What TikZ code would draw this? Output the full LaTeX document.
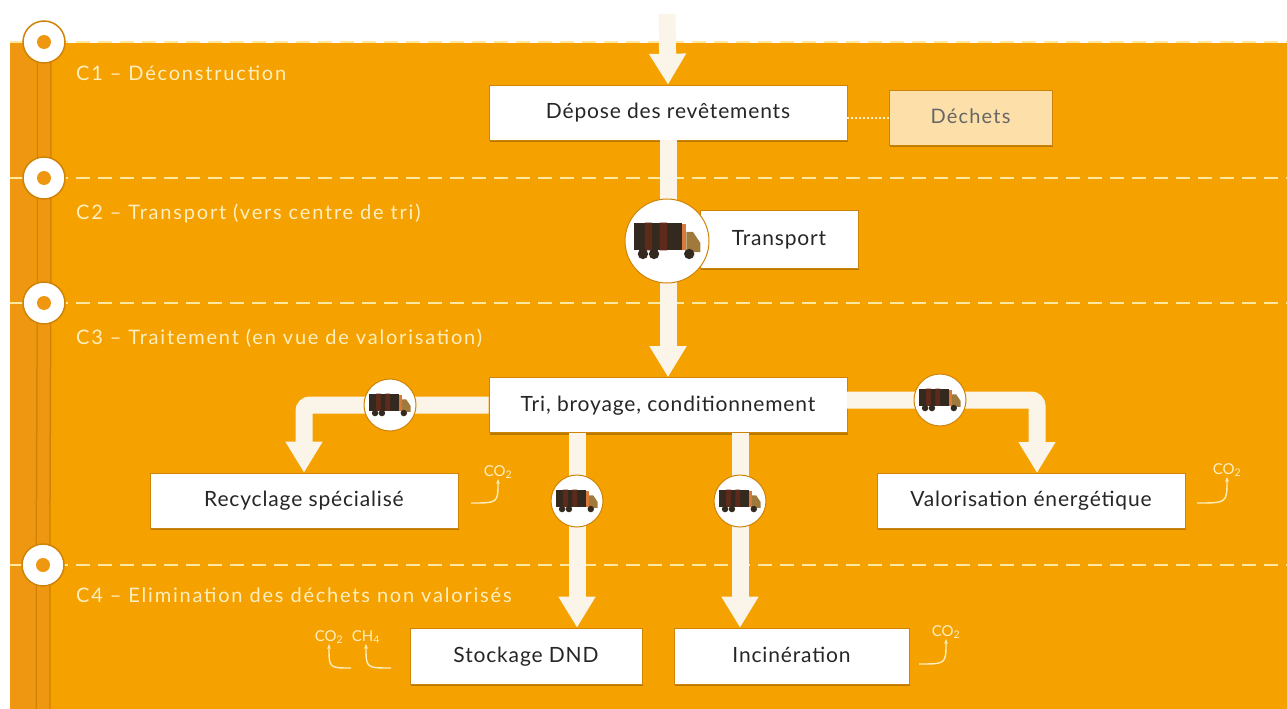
\documentclass[tikz,border=0pt]{standalone}
\usepackage{fontspec}
\setmainfont{Lato}
\usetikzlibrary{arrows.meta,shadows}
\definecolor{bandorange}{HTML}{F5A100}
\definecolor{striporange}{HTML}{EF9710}
\definecolor{railorange}{HTML}{CF8408}
\definecolor{cream}{HTML}{FFEFC0}
\definecolor{dashyellow}{HTML}{FFE8A0}
\definecolor{flowwhite}{HTML}{FAF5E8}
\definecolor{decorfill}{HTML}{FDDFAA}
\definecolor{truckdark}{HTML}{33291F}
\definecolor{truckred}{HTML}{5E2A1C}
\definecolor{truckstrip}{HTML}{D8793A}
\definecolor{truckcab}{HTML}{A07A3C}
\tikzset{
    procbox/.style={draw=railorange, line width=0.6pt, fill=white, text=black!85, font=\fontsize{21}{24}\selectfont\addfontfeature{LetterSpace=4},
        text height=15pt, text depth=3pt, minimum height=55pt, inner sep=0pt,
        drop shadow={shadow xshift=0.5pt, shadow yshift=-2pt, fill=black!35!bandorange, opacity=0.7}},
    flow/.style={draw=flowwhite, line width=17pt, rounded corners=6pt, -{Triangle[length=31pt, width=35pt]}},
    truckdisc/.style={circle, draw=railorange, line width=1pt, fill=white, inner sep=0pt},
    stepdot/.style={circle, draw=railorange, line width=1.5pt, fill=white, minimum size=42pt, inner sep=0pt},
    sepline/.style={draw=dashyellow, line width=2pt, dash pattern=on 14pt off 8pt},
    phase/.style={anchor=west, text=cream, font=\fontsize{20}{23}\selectfont\addfontfeature{LetterSpace=9}, inner sep=0pt},
    gaslabel/.style={text=cream, font=\fontsize{15}{17}\selectfont, inner sep=0pt},
    gas/.style={draw=cream, line width=1.4pt, -{Stealth[length=5pt]}},
    truck/.pic={
        \fill[truckdark] (-18,-10) rectangle (8,5);
        \fill[truckred] (-12,-10) rectangle (-8,5) (-4,-10) rectangle (0,5);
        \fill[truckstrip] (8,-9) rectangle (10.5,5);
        \fill[truckcab] (10.5,-5) -- (14,-5) -- (18,1) -- (18,6) -- (10.5,6) -- cycle;
        \fill[truckdark] (-13,7) circle (2.8) (-7,7) circle (2.8) (12,7) circle (2.8);
    }
}
\begin{document}
\begin{tikzpicture}[x=1pt, y=-1pt]
    \useasboundingbox (0,0) rectangle (1287,709);
    \fill[bandorange] (10,43) rectangle (1287,709);
    \fill[striporange] (10,43) rectangle (36,709);

    \coordinate (stepa) at (44,42);
    \coordinate (stepb) at (44,178);
    \coordinate (stepc) at (44,303);
    \coordinate (stepd) at (43,565);
    \coordinate (railend) at (43,709);
    \coordinate (rightedge) at (1287,0);
    \coordinate (leftedge) at (10,0);
    \coordinate (topend) at (667,14);

    \draw[railorange, line width=1.5pt, double=striporange, double distance=12pt] (stepa) -- (stepb) -- (stepc) -- (stepd) -- (railend);

    % dashed limits between the phases
    \draw[sepline] (stepa -| leftedge) -- (stepa -| rightedge);
    \draw[sepline] (stepb -| leftedge) -- (stepb -| rightedge);
    \draw[sepline] (stepc -| leftedge) -- (stepc -| rightedge);
    \draw[sepline] (stepd -| leftedge) -- (stepd -| rightedge);

    \node[stepdot](dota) at (stepa) {};
    \node[stepdot](dotb) at (stepb) {};
    \node[stepdot](dotc) at (stepc) {};
    \node[stepdot](dotd) at (stepd) {};
    \fill[striporange] (stepa) circle (7) (stepb) circle (7) (stepc) circle (7) (stepd) circle (7);

    \node[phase](C_1) at (76,73) {C1 -- Déconstruction};
    \node[phase](C_2) at (76,213) {C2 -- Transport (vers centre de tri)};
    \node[phase](C_3) at (76,338) {C3 -- Traitement (en vue de valorisation)};
    \node[phase](C_4) at (76,595) {C4 -- Elimination des déchets non valorisés};

    \node[procbox, minimum width=358pt](depose) at (668,112.5) {Dépose des revêtements};
    \node[procbox, minimum width=163pt, fill=decorfill, text=black!60, font=\fontsize{20}{23}\selectfont\addfontfeature{LetterSpace=6}](dechets) at (970.5,117.5) {Déchets};
    \node[procbox, minimum width=158pt, minimum height=58pt](transport) at (779,239) {Transport};
    \node[procbox, minimum width=358pt](tri) at (668,405) {Tri, broyage, conditionnement};
    \node[procbox, minimum width=308pt](recyclage) at (304,500.5) {Recyclage spécialisé};
    \node[procbox, minimum width=308pt](valorisation) at (1031,500.5) {Valorisation énergétique};
    \node[procbox, minimum width=232pt, minimum height=56pt](stockage) at (526,656) {Stockage DND};
    \node[procbox, minimum width=235pt, minimum height=56pt](incineration) at (791.5,656) {Incinération};

    \coordinate (truck_L) at (390,405);
    \coordinate (truck_R) at (940,400);
    \coordinate (truck_S) at (577,501);
    \coordinate (truck_I) at (740,501);
    \coordinate (truck_T) at (667,241);
    \coordinate (tri_R) at (847,400);
    \coordinate (valo_in) at (1037,473);

    \draw[flow] (topend) -- (depose.north);
    \draw[flow] (depose.south) -- (tri.north);
    \draw[flow] (tri.west) -| (recyclage.north);
    \draw[flow] (tri_R) -| (valo_in);
    \draw[flow] (truck_S |- tri.south) -- (truck_S |- stockage.north);
    \draw[flow] (truck_I |- tri.south) -- (truck_I |- incineration.north);
    \draw[dotted, draw=cream, line width=2pt] (dechets.west) -- (dechets.west -| depose.east);

    \node[truckdisc, minimum size=84pt](disc_T) at (truck_T) {};
    \node[truckdisc, minimum size=52pt](disc_L) at (truck_L) {};
    \node[truckdisc, minimum size=52pt](disc_R) at (truck_R) {};
    \node[truckdisc, minimum size=52pt](disc_S) at (truck_S) {};
    \node[truckdisc, minimum size=52pt](disc_I) at (truck_I) {};

    \pic[scale=1.85] at (disc_T) {truck};
    \pic[scale=1.15] at (disc_L) {truck};
    \pic[scale=1.15] at (disc_R) {truck};
    \pic[scale=1.15] at (disc_S) {truck};
    \pic[scale=1.15] at (disc_I) {truck};

    \node[gaslabel](co_rec) at (498,472) {CO\textsubscript{2}};
    \node[gaslabel](co_val) at (1227,470) {CO\textsubscript{2}};
    \node[gaslabel](co_inc) at (946,632) {CO\textsubscript{2}};
    \node[gaslabel](co_sto) at (329,637) {CO\textsubscript{2}};
    \node[gaslabel](ch_sto) at (366,637) {CH\textsubscript{4}};

    \coordinate (gas_rec) at (471,503);
    \coordinate (gas_val) at (1197,503);
    \coordinate (gas_inc) at (919,664);
    \coordinate (gas_co) at (351,668);
    \coordinate (gas_ch) at (391,668);

    \draw[gas] (gas_rec) .. controls (gas_rec -| co_rec) .. (co_rec.south);
    \draw[gas] (gas_val) .. controls (gas_val -| co_val) .. (co_val.south);
    \draw[gas] (gas_inc) .. controls (gas_inc -| co_inc) .. (co_inc.south);
    \draw[gas] (gas_co) .. controls (gas_co -| co_sto) .. (co_sto.south);
    \draw[gas] (gas_ch) .. controls (gas_ch -| ch_sto) .. (ch_sto.south);
\end{tikzpicture}
\end{document}
